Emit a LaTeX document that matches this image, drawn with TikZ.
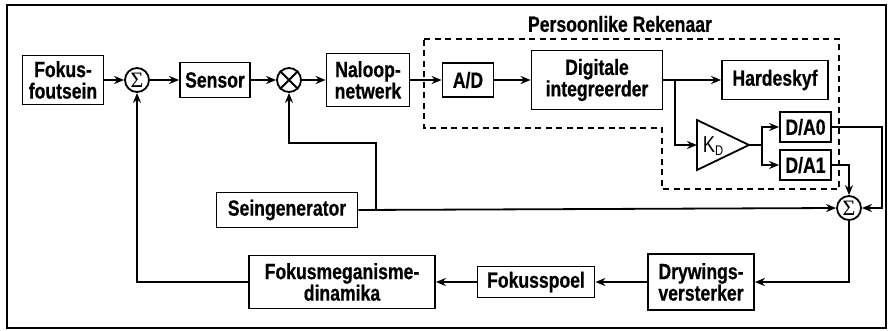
\documentclass[tikz,border=0pt]{standalone}
\usepackage{fontspec}
\setmainfont[FakeStretch=0.80,BoldFeatures={FakeBold=0.6}]{Liberation Sans}
\newfontfamily\sigmafont{Liberation Serif}
\usetikzlibrary{arrows.meta}
\begin{document}
\begin{tikzpicture}[x=1pt,y=-1pt,
  line width=1.8pt,
  lbl/.style={font=\fontsize{22}{21.5}\selectfont\bfseries},
  box/.style={lbl,draw,inner sep=0pt,align=center},
  sumnode/.style={draw,circle,minimum size=24pt,inner sep=0pt,
    font=\sigmafont\fontsize{22}{22}\selectfont},
  arr/.style={-{Stealth[length=10pt,width=8pt]}},
  pcbox/.style={dash pattern=on 6pt off 4.5pt},
]
\useasboundingbox (0,0) rectangle (890,330);
% outer frame
\draw (7,5) rectangle (886,328);

% computer boundary
\draw[pcbox] (424,39) -- (839,39) -- (839,189) -- (662,189) -- (662,128)
  -- (424,128) -- cycle;
\node[lbl] (pc) at (620,24) {Persoonlike Rekenaar};

% forward path
\node[box,minimum width=81pt,minimum height=49pt] (fout) at (63,80) {Fokus-\\foutsein};
\node[sumnode] (s1) at (137,80) {Σ};
\node[box,minimum width=70pt,minimum height=35pt] (sens) at (215,80) {Sensor};
\node[draw,circle,minimum size=24pt,inner sep=0pt] (mul) at (289,80) {};
\draw (mul.north east) -- (mul.south west) (mul.north west) -- (mul.south east);
\node[box,minimum width=83pt,minimum height=53pt] (nal) at (368,80) {Naloop-\\netwerk};
\node[box,minimum width=51pt,minimum height=34pt] (ad) at (468,80) {A/D};
\node[box,minimum width=131pt,minimum height=59pt] (dig) at (597,80) {Digitale\\integreerder};
\node[box,minimum width=106pt,minimum height=39pt] (hard) at (775,80) {Hardeskyf};

% gain stage and converters
\draw (697,120) -- (749,145) -- (697,170) -- cycle;
\coordinate (kdin) at (697,145);
\coordinate (kdout) at (749,145);
\node[font=\fontsize{23}{23}\selectfont,inner sep=0pt] (kd) at (713,146)
  {K\raisebox{-0.3ex}{\fontsize{14}{14}\selectfont D}};
\node[box,minimum width=51pt,minimum height=30pt] (da0) at (805.5,127) {D/A0};
\node[box,minimum width=51pt,minimum height=30pt] (da1) at (805.5,165) {D/A1};

\node[sumnode] (s2) at (849,208) {Σ};
\node[box,minimum width=141pt,minimum height=35pt] (sein) at (287,210) {Seingenerator};

% return path
\node[box,minimum width=106pt,minimum height=56pt] (dryw) at (701,282) {Drywings-\\versterker};
\node[box,minimum width=117pt,minimum height=31pt] (spoel) at (536,282) {Fokusspoel};
\node[box,minimum width=186pt,minimum height=53pt] (meg) at (342,282) {Fokusmeganisme-\\dinamika};

% junction points
\coordinate (br1) at (675,80);
\coordinate (br2) at (762,145);
\coordinate (br3) at (376,210);
\coordinate (c1) at (882,170);
\coordinate (c2) at (376,143);

% connectors
\draw[arr] (fout.east) -- (s1.west);
\draw[arr] (s1.east) -- (sens.west);
\draw[arr] (sens.east) -- (mul.west);
\draw[arr] (mul.east) -- (nal.west);
\draw[arr] (nal.east) -- (ad.west);
\draw[arr] (ad.east) -- (dig.west);
\draw[arr] (dig.east) -- (hard.west);
\draw[arr] (br1) |- (kdin);
\draw (kdout) -- (br2);
\draw[arr] (br2) |- (da0.west);
\draw[arr] (br2) |- (da1.west);
\draw[arr] (da0.east) -| (c1) |- (s2.east);
\draw[arr] (da1.east) -| (s2.north);
\draw[arr] (sein.east) -- (s2.west);
\draw[arr] (br3) -- (c2) -| (mul.south);
\draw[arr] (s2.south) |- (dryw.east);
\draw[arr] (dryw.west) -- (spoel.east);
\draw[arr] (spoel.west) -- (meg.east);
\draw[arr] (meg.west) -| (s1.south);
\end{tikzpicture}
\end{document}
